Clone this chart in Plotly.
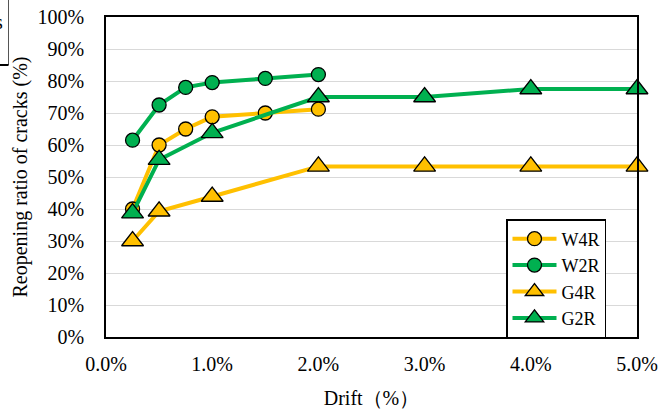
import plotly.graph_objects as go

# ---- data (percent units) ----
w_drift = [0.25, 0.5, 0.75, 1.0, 1.5, 2.0]
w4r = [40.0, 60.0, 65.0, 68.8, 70.0, 71.2]
w2r = [61.5, 72.5, 78.0, 79.5, 80.8, 82.0]
g_drift = [0.25, 0.5, 1.0, 2.0, 3.0, 4.0, 5.0]
g4r = [30.0, 39.3, 43.9, 53.3, 53.3, 53.3, 53.3]
g2r = [38.7, 55.4, 63.8, 75.0, 75.0, 77.5, 77.5]

x_ticks = [0, 1, 2, 3, 4, 5]
y_ticks = [0, 10, 20, 30, 40, 50, 60, 70, 80, 90, 100]

YELLOW = "#FFC000"
GREEN = "#00B050"
FONT = "Liberation Serif"

W, H = 669, 412
L, R, T, B = 106, 32, 17, 75

fig = go.Figure()

def add(name, x, y, color, symbol, size):
    fig.add_trace(go.Scatter(
        x=x, y=y, name=name, mode="lines+markers",
        line=dict(color=color, width=4),
        marker=dict(symbol=symbol, size=size, color=color,
                    line=dict(color="black", width=1.3)),
        cliponaxis=False,
    ))

add("W4R", w_drift, w4r, YELLOW, "circle", 14)
add("W2R", w_drift, w2r, GREEN, "circle", 14)
add("G4R", g_drift, g4r, YELLOW, "triangle-up", 19)
add("G2R", g_drift, g2r, GREEN, "triangle-up", 19)

# helpers for pixel -> paper conversion
pw, ph = W - L - R, H - T - B
def px(x):
    return (x - L) / pw
def py(y):
    return (H - B - y) / ph

fig.update_layout(
    width=W, height=H,
    margin=dict(l=L, r=R, t=T, b=B, autoexpand=False),
    paper_bgcolor="white", plot_bgcolor="white",
    font=dict(family=FONT, size=20, color="black"),
    showlegend=True,
    legend=dict(
        x=px(506), xanchor="left", y=py(219), yanchor="top",
        bgcolor="white", bordercolor="black", borderwidth=1.5,
        font=dict(family=FONT, size=18, color="black"),
        itemsizing="trace", itemwidth=44,
    ),
    xaxis=dict(
        range=[0, 5], tickvals=x_ticks, ticktext=[f"{v:.1f}%" for v in x_ticks],
        showgrid=False, zeroline=False, automargin=False,
        showline=True, linecolor="black", linewidth=1.5, mirror=True,
        ticks="", ticklabelstandoff=8,
        tickfont=dict(family=FONT, size=20, color="black"),
        title=dict(text="Drift（%）", font=dict(family=FONT, size=20), standoff=17),
    ),
    yaxis=dict(
        range=[0, 100], tickvals=y_ticks, ticktext=[f"{v}%" for v in y_ticks],
        showgrid=True, gridcolor="#D9D9D9", gridwidth=1,
        zeroline=False, automargin=False,
        showline=True, linecolor="black", linewidth=1.5, mirror=True,
        ticks="", ticklabelstandoff=16,
        tickfont=dict(family=FONT, size=20, color="black"),
        title=dict(text="Reopening ratio of cracks (%)", font=dict(family=FONT, size=20), standoff=5),
    ),
)

# cropped fragment of a neighbouring box in the top-left corner
fig.add_shape(type="line", xref="paper", yref="paper",
              x0=px(8.5), x1=px(8.5), y0=py(0), y1=py(65),
              line=dict(color="#555555", width=1))
fig.add_shape(type="line", xref="paper", yref="paper",
              x0=px(-2), x1=px(8.5), y0=py(65), y1=py(65),
              line=dict(color="black", width=2))
fig.add_annotation(text="s", xref="paper", yref="paper",
                   x=px(5), y=py(22), xanchor="right", yanchor="middle",
                   showarrow=False, font=dict(family=FONT, size=20, color="black"))

fig.write_html("out.html", config={"displayModeBar": False},
               post_script="document.body.style.margin='0';")
